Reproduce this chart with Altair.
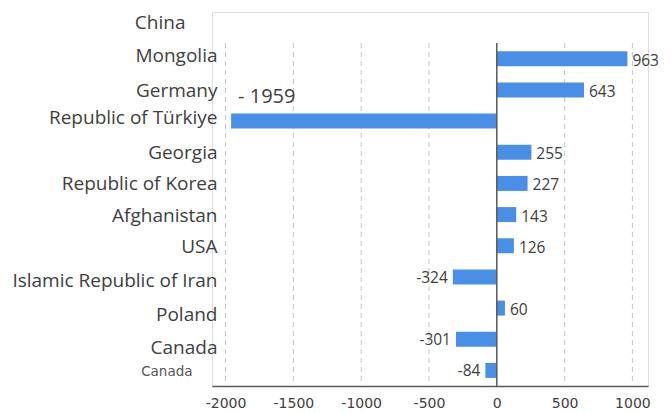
import altair as alt
import pandas as pd

countries = ["China", "Mongolia", "Germany", "Republic of Türkiye", "Georgia",
             "Republic of Korea", "Afghanistan", "USA", "Islamic Republic of Iran",
             "Poland", "Canada", "Canada "]
values = [None, 963, 643, -1959, 255, 227, 143, 126, -324, 60, -301, -84]
value_labels = ["", "963", "643", "- 1959", "255", "227", "143", "126", "-324", "60", "-301", "-84"]
grid_ticks = [-2000, -1500, -1000, -500, 500, 1000]
axis_ticks = [-2000, -1500, -1000, -500, 0, 500, 1000]

df = pd.DataFrame({"country": countries, "value": values, "label": value_labels})
grid_df = pd.DataFrame({"x": grid_ticks})
zero_df = pd.DataFrame({"x": [0]})

BLUE = "#4a8ee6"
xscale = alt.Scale(domain=[-2100, 1115], nice=False, zero=False)

label_offset = {
    "condition": [
        {"test": "datum.value == 'China'", "value": -5},
        {"test": "datum.value == 'Mongolia'", "value": -3},
        {"test": "datum.value == 'Republic of Türkiye'", "value": -3},
        {"test": "datum.value == 'Islamic Republic of Iran'", "value": 4},
        {"test": "datum.value == 'Poland'", "value": 7},
        {"test": "datum.value == 'Canada'", "value": 9},
        {"test": "datum.value == 'Canada '", "value": 2},
    ],
    "value": 1,
}
label_padding = {
    "condition": [
        {"test": "datum.value == 'China'", "value": 27},
        {"test": "datum.value == 'Canada '", "value": 20},
    ],
    "value": -5,
}
label_size = {"condition": {"test": "datum.value == 'Canada '", "value": 13.5}, "value": 19}
label_font = {"condition": {"test": "datum.value == 'Canada '", "value": "DejaVu Sans"}, "value": "Open Sans"}
label_color = {"condition": {"test": "datum.value == 'Canada '", "value": "#555555"}, "value": "#404040"}

yenc = alt.Y("country:N", sort=countries, title=None,
             scale=alt.Scale(paddingInner=0.52, paddingOuter=0.26),
             axis=alt.Axis(domain=False, ticks=False, labelFont=label_font,
                           labelFontSize=label_size, labelColor=label_color,
                           labelOffset=label_offset, labelPadding=label_padding,
                           labelLimit=300))

grid = alt.Chart(grid_df).mark_rule(color="#c4c4c4", strokeDash=[5, 4], strokeWidth=1).encode(
    x=alt.X("x:Q", scale=xscale), y=alt.value(31), y2=alt.value(374))

bars = alt.Chart(df).mark_bar(color=BLUE, size=15).encode(
    x=alt.X("value:Q", scale=xscale, title=None,
            axis=alt.Axis(values=axis_ticks, labelExpr="'' + datum.value", grid=False, ticks=False,
                          domainColor="#595959", domainWidth=1.5,
                          labelFont="DejaVu Sans", labelFontSize=14,
                          labelColor="#404040", labelPadding=10)),
    y=yenc,
)

zero = alt.Chart(zero_df).mark_rule(color="#595959", strokeWidth=1.5).encode(
    x=alt.X("x:Q", scale=xscale), y=alt.value(31), y2=alt.value(374))

pos_text = alt.Chart(df).transform_filter("datum.value > 0").mark_text(
    align="left", baseline="middle", dx=5, dy=2, font="Open Sans", fontSize=15.5, color="#404040"
).encode(x=alt.X("value:Q", scale=xscale), y=alt.Y("country:N", sort=countries), text="label:N")

neg_text = alt.Chart(df).transform_filter("datum.value < 0 && datum.value > -1000").mark_text(
    align="right", baseline="middle", dx=-5, dy=1, font="Open Sans", fontSize=15.5, color="#404040"
).encode(x=alt.X("value:Q", scale=xscale), y=alt.Y("country:N", sort=countries), text="label:N")

big_text = alt.Chart(df).transform_filter("datum.value <= -1000").mark_text(
    align="left", baseline="middle", dx=7, dy=-24, font="Open Sans", fontSize=20, color="#404040"
).encode(x=alt.X("value:Q", scale=xscale), y=alt.Y("country:N", sort=countries), text="label:N")

chart = alt.layer(grid, bars, zero, pos_text, neg_text, big_text).properties(
    width=436, height=374, autosize="none",
    padding={"left": 204, "top": 4, "right": 15, "bottom": 27},
).configure_view(stroke=None).configure(background="white")

chart.save("out.html", embed_options={"renderer": "svg", "actions": False})
